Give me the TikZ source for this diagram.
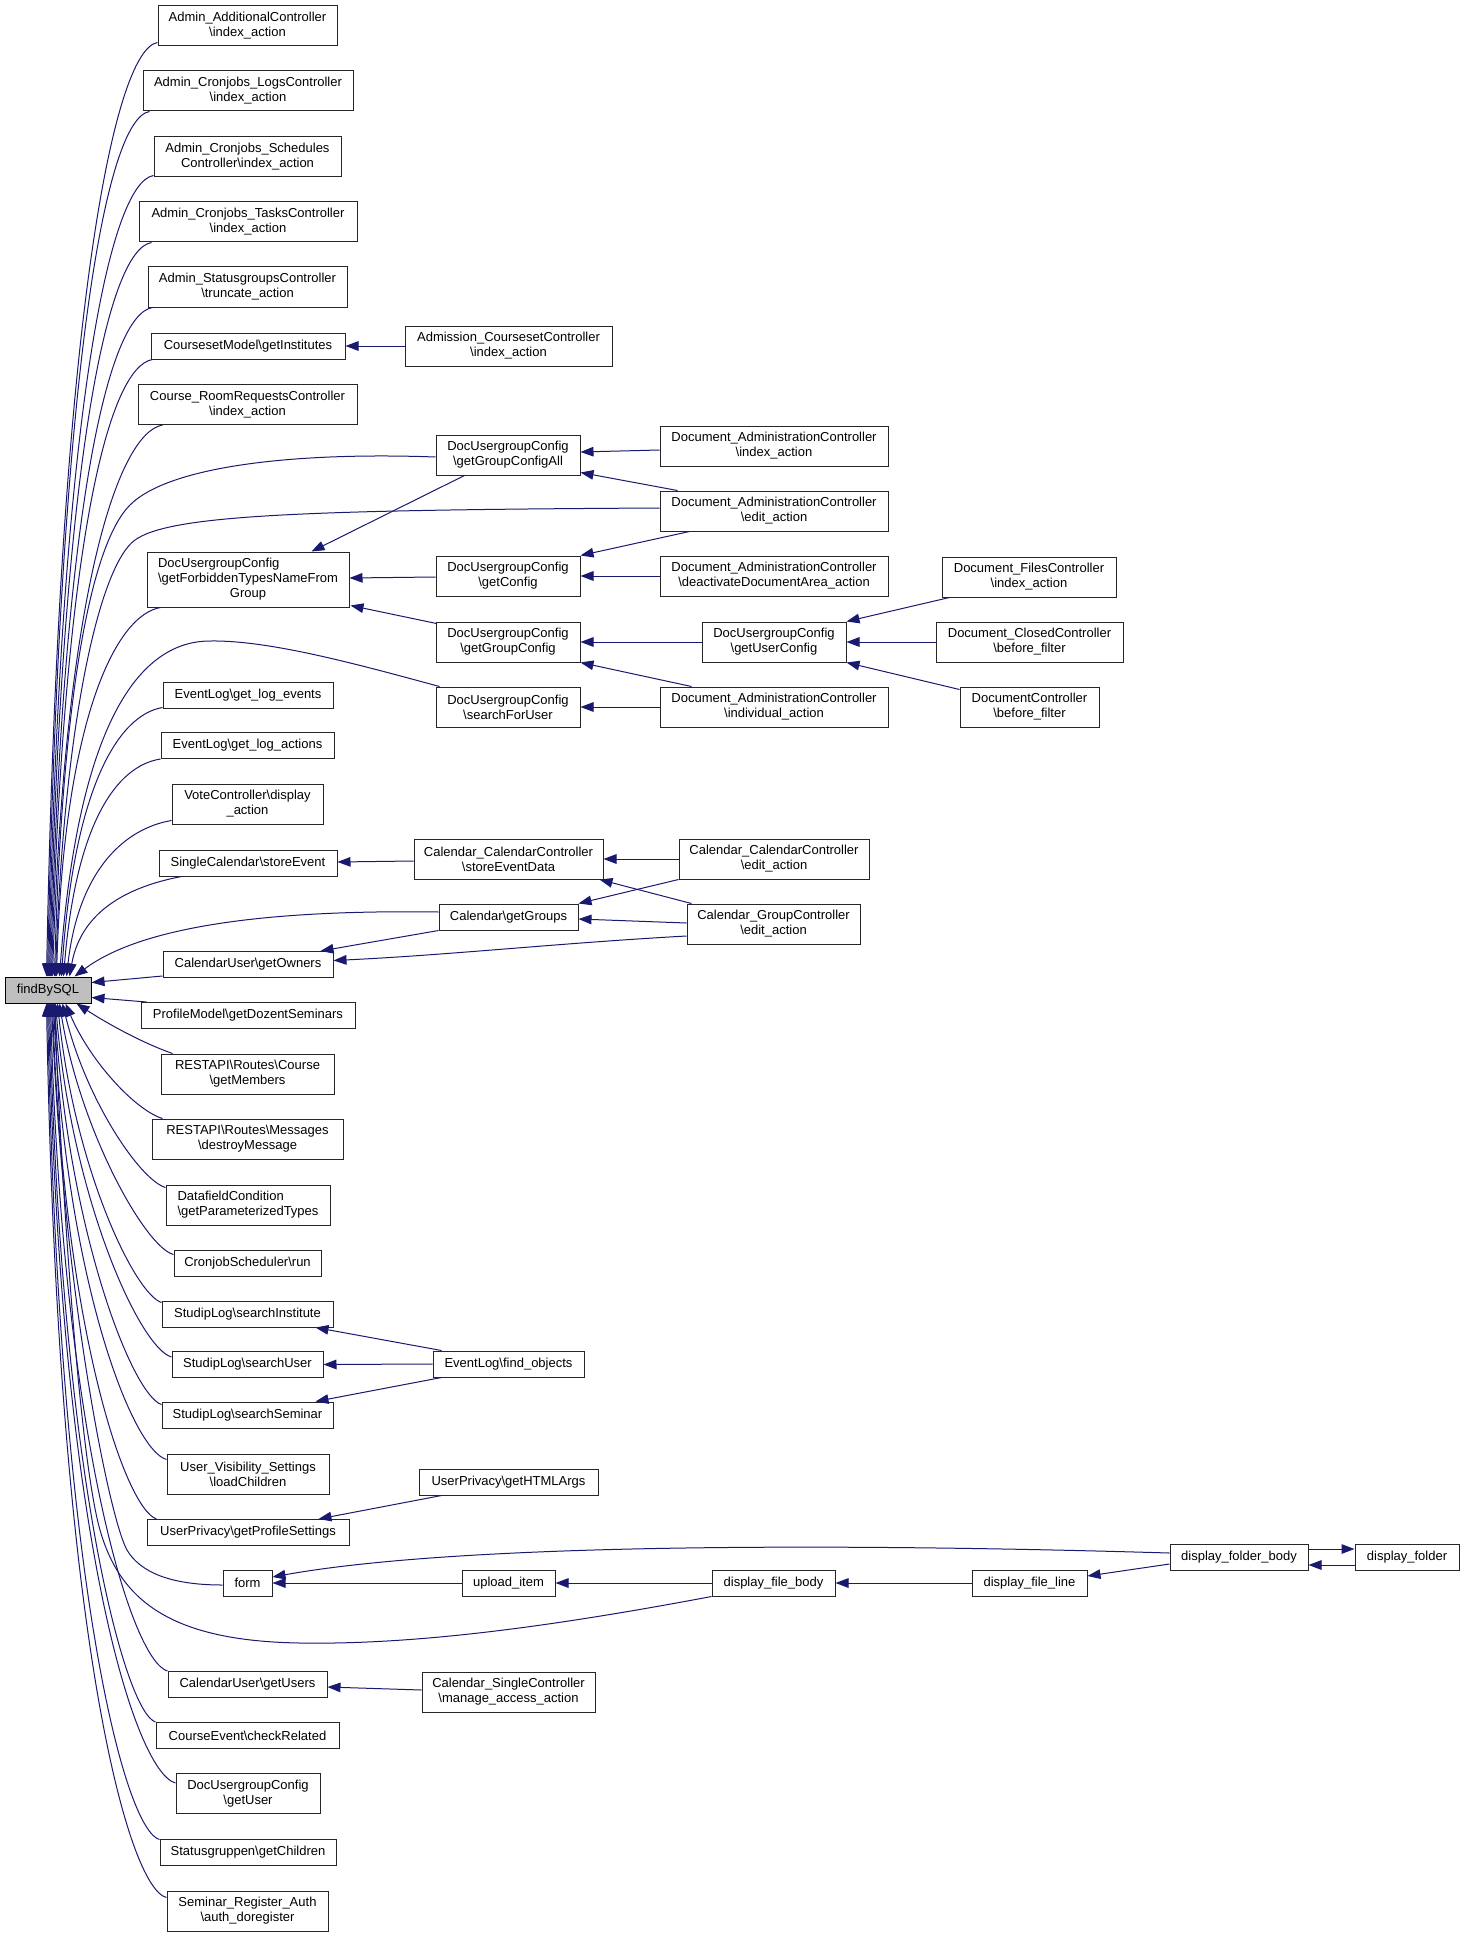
\documentclass[tikz,border=0pt]{standalone}
\usepackage{fontspec}
\setmainfont{Liberation Sans}
\usetikzlibrary{arrows.meta,calc}
\definecolor{eb}{HTML}{191970}
\definecolor{fg}{HTML}{BFBFBF}
\newcommand\mybs{\textbackslash}
\begin{document}
\begin{tikzpicture}[x=0.5pt,y=0.5pt,
  bx/.style={draw=black!85, line width=0.5pt, fill=white, inner sep=0pt, minimum height=13pt, align=center, font=\fontsize{6.5}{7.5}\selectfont},
  tw/.style={minimum height=20pt},
  th/.style={minimum height=27.5pt},
  wd/.style={minimum width=#1*0.5pt},
  ed/.style={draw=eb, line width=0.5pt, -{Triangle[length=6.5pt,width=4.8pt]}}]
\fill[white] (0,0) rectangle (1464,-1937);
\useasboundingbox (0,0) rectangle (1464,-1937);

% ---- nodes ----
\node[bx,tw,wd=179] (n1) at (247.5,-26) {Admin\_AdditionalController\\\mybs index\_action};
\node[bx,tw,wd=210] (n2) at (248,-91) {Admin\_Cronjobs\_LogsController\\\mybs index\_action};
\node[bx,tw,wd=187] (n3) at (247.5,-157) {Admin\_Cronjobs\_Schedules\\Controller\mybs index\_action};
\node[bx,tw,wd=218] (n4) at (248,-222) {Admin\_Cronjobs\_TasksController\\\mybs index\_action};
\node[bx,tw,wd=199] (n5) at (247.5,-287) {Admin\_StatusgroupsController\\\mybs truncate\_action};
\node[bx,wd=194] (n6) at (248,-346) {CoursesetModel\mybs getInstitutes};
\node[bx,tw,wd=219] (n7) at (247.5,-404.5) {Course\_RoomRequestsController\\\mybs index\_action};
\node[bx,tw,wd=207] (adm) at (508.5,-346) {Admission\_CoursesetController\\\mybs index\_action};
\node[bx,tw,wd=144] (g1) at (508,-455) {DocUsergroupConfig\\\mybs getGroupConfigAll};
\node[bx,th,wd=202] (ff) at (248,-579.5) {\begin{tabular}{@{}l@{}}DocUsergroupConfig\\\mybs getForbiddenTypesNameFrom\\\multicolumn{1}{@{}c@{}}{Group}\end{tabular}};
\node[bx,tw,wd=144] (gc) at (508,-576) {DocUsergroupConfig\\\mybs getConfig};
\node[bx,tw,wd=144] (ggc) at (508,-642) {DocUsergroupConfig\\\mybs getGroupConfig};
\node[bx,tw,wd=144] (sfu) at (508,-707) {DocUsergroupConfig\\\mybs searchForUser};
\node[bx,tw,wd=228] (dai) at (774,-446) {Document\_AdministrationController\\\mybs index\_action};
\node[bx,tw,wd=228] (dae) at (774,-511) {Document\_AdministrationController\\\mybs edit\_action};
\node[bx,tw,wd=228] (dad) at (774,-576) {Document\_AdministrationController\\\mybs deactivateDocumentArea\_action};
\node[bx,tw,wd=144] (guc) at (774,-642) {DocUsergroupConfig\\\mybs getUserConfig};
\node[bx,tw,wd=228] (dain) at (774,-707) {Document\_AdministrationController\\\mybs individual\_action};
\node[bx,tw,wd=174] (dfc) at (1029,-577) {Document\_FilesController\\\mybs index\_action};
\node[bx,tw,wd=187] (dcc) at (1029.5,-642) {Document\_ClosedController\\\mybs before\_filter};
\node[bx,tw,wd=139] (dc) at (1029.5,-707) {DocumentController\\\mybs before\_filter};
\node[bx,wd=170] (gle) at (248,-695) {EventLog\mybs get\_log\_events};
\node[bx,wd=173] (gla) at (247.5,-745.5) {EventLog\mybs get\_log\_actions};
\node[bx,tw,wd=151] (vote) at (247.5,-804) {VoteController\mybs display\\\_action};
\node[bx,wd=178] (sce) at (248,-863) {SingleCalendar\mybs storeEvent};
\node[bx,tw,wd=189] (sed) at (508.5,-859) {Calendar\_CalendarController\\\mybs storeEventData};
\node[bx,tw,wd=190] (cce) at (774,-859) {Calendar\_CalendarController\\\mybs edit\_action};
\node[bx,wd=139] (gg) at (508.5,-917) {Calendar\mybs getGroups};
\node[bx,tw,wd=173] (gce) at (773.5,-924) {Calendar\_GroupController\\\mybs edit\_action};
\node[bx,wd=170] (go) at (248,-964.5) {CalendarUser\mybs getOwners};
\node[bx,wd=86,fill=fg,draw=black] (f) at (48,-990) {findBySQL};
\node[bx,wd=214] (pm) at (248,-1015.5) {ProfileModel\mybs getDozentSeminars};
\node[bx,tw,wd=173] (rc) at (247.5,-1074) {RESTAPI\mybs Routes\mybs Course\\\mybs getMembers};
\node[bx,tw,wd=191] (rm) at (247.5,-1139) {RESTAPI\mybs Routes\mybs Messages\\\mybs destroyMessage};
\node[bx,tw,wd=164] (dfc2) at (248,-1205) {\begin{tabular}{@{}l@{}}DatafieldCondition\\\mybs getParameterizedTypes\end{tabular}};
\node[bx,wd=147] (cs) at (247.5,-1263) {CronjobScheduler\mybs run};
\node[bx,wd=171] (si) at (247.5,-1314) {StudipLog\mybs searchInstitute};
\node[bx,wd=151] (su) at (247.5,-1364.5) {StudipLog\mybs searchUser};
\node[bx,wd=171] (ss) at (247.5,-1415) {StudipLog\mybs searchSeminar};
\node[bx,wd=151] (fo) at (508.5,-1364) {EventLog\mybs find\_objects};
\node[bx,tw,wd=162] (uvs) at (248,-1474) {User\_Visibility\_Settings\\\mybs loadChildren};
\node[bx,wd=179] (gha) at (508.5,-1482) {UserPrivacy\mybs getHTMLArgs};
\node[bx,wd=202] (gps) at (248,-1532.5) {UserPrivacy\mybs getProfileSettings};
\node[bx,wd=49] (form) at (247.5,-1583) {form};
\node[bx,wd=93] (ui) at (508.5,-1583) {upload\_item};
\node[bx,wd=123] (dfb) at (773.5,-1583) {display\_file\_body};
\node[bx,wd=115] (dfl) at (1029.5,-1583) {display\_file\_line};
\node[bx,wd=138] (dfob) at (1239,-1557) {display\_folder\_body};
\node[bx,wd=104] (dfo) at (1407,-1557) {display\_folder};
\node[bx,wd=159] (gu) at (247.5,-1684.5) {CalendarUser\mybs getUsers};
\node[bx,tw,wd=173] (msa) at (508.5,-1692) {Calendar\_SingleController\\\mybs manage\_access\_action};
\node[bx,wd=183] (ce) at (247.5,-1735.5) {CourseEvent\mybs checkRelated};
\node[bx,tw,wd=144] (gusr) at (248,-1793.5) {DocUsergroupConfig\\\mybs getUser};
\node[bx,wd=176] (sg) at (248,-1852) {Statusgruppen\mybs getChildren};
\node[bx,tw,wd=161] (sra) at (247.5,-1911) {Seminar\_Register\_Auth\\\mybs auth\_doregister};

% ---- edges into findBySQL from above ----
\draw[ed] ($(n1.south west)+(0,4)$) .. controls (113,-50) and (59,-322) .. ($(f.north west)+(42,0)$);
\draw[ed] ($(n2.south west)+(7,0)$) .. controls (105,-119) and (60,-371) .. ($(f.north west)+(43,0)$);
\draw[ed] ($(n3.south west)+(0,2)$) .. controls (109,-183) and (61,-415) .. ($(f.north west)+(44,0)$);
\draw[ed] ($(n4.south west)+(13,0)$) .. controls (107,-250) and (62,-462) .. ($(f.north west)+(45,0)$);
\draw[ed] ($(n5.south west)+(5,0)$) .. controls (108,-315) and (63,-508) .. ($(f.north west)+(46,0)$);
\draw[ed] ($(n6.south west)+(2,0)$) .. controls (108,-367) and (64,-544) .. ($(f.north west)+(47,0)$);
\draw[ed] ($(n7.south west)+(25,0)$) .. controls (118,-433) and (65,-591) .. ($(f.north west)+(48,0)$);
\draw[ed] ($(g1.west)+(0,-2)$) .. controls (300,-452) and (170,-465) .. (130,-505) .. controls (90,-545) and (62,-700) .. ($(f.north west)+(50,0)$);
\draw[ed] ($(dae.west)+(0,3)$) .. controls (300,-510) and (170,-515) .. (135,-540) .. controls (100,-565) and (64,-720) .. ($(f.north west)+(51,0)$);
\draw[ed] ($(ff.south west)+(14,0)$) .. controls (116,-615) and (64,-718) .. ($(f.north west)+(52,0)$);
\draw[ed] ($(sfu.north west)+(4,0)$) .. controls (360,-665) and (270,-640) .. (210,-641) .. controls (150,-641) and (80,-700) .. ($(f.north west)+(55,0)$);
\draw[ed] ($(gle.south west)+(0,1)$) .. controls (118,-715) and (74,-788) .. ($(f.north west)+(57,0)$);
\draw[ed] (gla.south west) .. controls (116,-766) and (76,-824) .. ($(f.north west)+(59,0)$);
\draw[ed] ($(vote.south west)+(0,4)$) .. controls (127,-828) and (79,-867) .. ($(f.north west)+(62,0)$);
\draw[ed] ($(sce.south west)+(23,0)$) .. controls (137,-885) and (82,-906) .. ($(f.north west)+(65,0)$);
\draw[ed] ($(gg.west)+(0,5)$) .. controls (300,-910) and (150,-920) .. ($(f.north west)+(70,0)$);
\draw[ed] ($(go.south west)+(0,2)$) -- ($(f.north east)+(0,-6)$);
\draw[ed] ($(pm.north west)+(6,0)$) -- ($(f.south east)+(0,6)$);

% ---- edges into findBySQL from below ----
\draw[ed] ($(rc.north west)+(12,0)$) .. controls (140,-1042) and (105,-1022) .. ($(f.south west)+(72,0)$);
\draw[ed] ($(rm.north west)+(11,0)$) .. controls (135,-1110) and (90,-1061) .. ($(f.south west)+(61,0)$);
\draw[ed] ($(dfc2.north west)+(0,-3)$) .. controls (140,-1180) and (86,-1100) .. ($(f.south west)+(58,0)$);
\draw[ed] ($(cs.north west)+(0,-5)$) .. controls (145,-1247) and (80,-1130) .. ($(f.south west)+(55,0)$);
\draw[ed] ($(si.north west)+(0,-2)$) .. controls (135,-1294) and (75,-1170) .. ($(f.south west)+(53,0)$);
\draw[ed] ($(su.north west)+(0,-6)$) .. controls (140,-1348) and (72,-1200) .. ($(f.south west)+(51,0)$);
\draw[ed] ($(ss.north west)+(0,-3)$) .. controls (132,-1395) and (68,-1230) .. ($(f.south west)+(50,0)$);
\draw[ed] ($(uvs.north west)+(0,-6)$) .. controls (132,-1450) and (66,-1280) .. ($(f.south west)+(49,0)$);
\draw[ed] ($(gps.north west)+(10,0)$) .. controls (125,-1508) and (64,-1330) .. ($(f.south west)+(48,0)$);
\draw[ed] ($(form.west)+(0,-2)$) .. controls (170,-1585) and (140,-1572) .. (127,-1550) .. controls (110,-1520) and (64,-1300) .. ($(f.south west)+(47,0)$);
\draw[ed] (dfb.south west) .. controls (560,-1625) and (420,-1645) .. (300,-1643) .. controls (170,-1641) and (120,-1600) .. (100,-1530) .. controls (80,-1460) and (62,-1200) .. ($(f.south west)+(50,0)$);
\draw[ed] (gu.north west) .. controls (130,-1660) and (62,-1430) .. ($(f.south west)+(46,0)$);
\draw[ed] (ce.north west) .. controls (125,-1712) and (61,-1480) .. ($(f.south west)+(45,0)$);
\draw[ed] ($(gusr.north west)+(0,-10)$) .. controls (135,-1772) and (60,-1540) .. ($(f.south west)+(44,0)$);
\draw[ed] ($(sg.north west)+(0,-1)$) .. controls (125,-1830) and (59,-1590) .. ($(f.south west)+(43,0)$);
\draw[ed] ($(sra.north west)+(0,-7)$) .. controls (128,-1888) and (58,-1640) .. ($(f.south west)+(42,0)$);

% ---- other edges ----
\draw[ed] (adm.west) -- (n6.east);
\draw[ed] ($(dai.west)+(0,-4)$) -- ($(g1.east)+(0,3)$);
\draw[ed] ($(dae.north west)+(18,0)$) -- ($(g1.south east)+(0,3)$);
\draw[ed] ($(dae.south west)+(30,0)$) -- (gc.north east);
\draw[ed] ($(g1.south west)+(29,0)$) -- ($(ff.north west)+(165,0)$);
\draw[ed] ($(gc.west)+(0,-1)$) -- ($(ff.east)+(0,1.5)$);
\draw[ed] ($(ggc.north west)+(1,-2)$) -- ($(ff.south east)+(1,2)$);
\draw[ed] (dad.west) -- (gc.east);
\draw[ed] (guc.west) -- (ggc.east);
\draw[ed] ($(dain.north west)+(32,0)$) -- (ggc.south east);
\draw[ed] (dain.west) -- (sfu.east);
\draw[ed] ($(dfc.south west)+(8,0)$) -- (guc.north east);
\draw[ed] (dcc.west) -- (guc.east);
\draw[ed] ($(dc.north west)+(0,-3)$) -- (guc.south east);
\draw[ed] ($(sed.west)+(0,-2)$) -- ($(sce.east)+(0,1)$);
\draw[ed] (cce.west) -- (sed.east);
\draw[ed] ($(gce.north west)+(5,0)$) -- ($(sed.south east)+(-4,0)$);
\draw[ed] (cce.south west) -- (gg.north east);
\draw[ed] ($(gce.west)+(0,1)$) -- ($(gg.east)+(0,-2)$);
\draw[ed] (gg.south west) -- ($(go.north east)+(-13,0)$);
\draw[ed] ($(gce.west)+(0,-12)$) .. controls (560,-943) and (450,-955) .. ($(go.east)+(0,4)$);
\draw[ed] ($(fo.north west)+(9,0)$) -- ($(si.south east)+(-18,0)$);
\draw[ed] (fo.west) -- (su.east);
\draw[ed] ($(fo.south west)+(9,0)$) -- ($(ss.north east)+(-18,0)$);
\draw[ed] ($(gha.south west)+(23,0)$) -- ($(gps.north east)+(-31,0)$);
\draw[ed] ($(dfob.west)+(0,4)$) .. controls (800,-1542) and (450,-1545) .. ($(form.east)+(0,6)$);
\draw[ed] (ui.west) -- (form.east);
\draw[ed] (dfb.west) -- (ui.east);
\draw[ed] (dfl.west) -- (dfb.east);
\draw[ed] ($(dfob.west)+(0,-7)$) -- ($(dfl.east)+(0,7)$);
\draw[ed] ($(dfob.east)+(0,8)$) -- ($(dfo.west)+(0,8)$);
\draw[ed] ($(dfo.west)+(0,-8)$) -- ($(dfob.east)+(0,-8)$);
\draw[ed] ($(msa.west)+(0,2)$) -- ($(gu.east)+(0,-2.5)$);
\end{tikzpicture}
\end{document}
